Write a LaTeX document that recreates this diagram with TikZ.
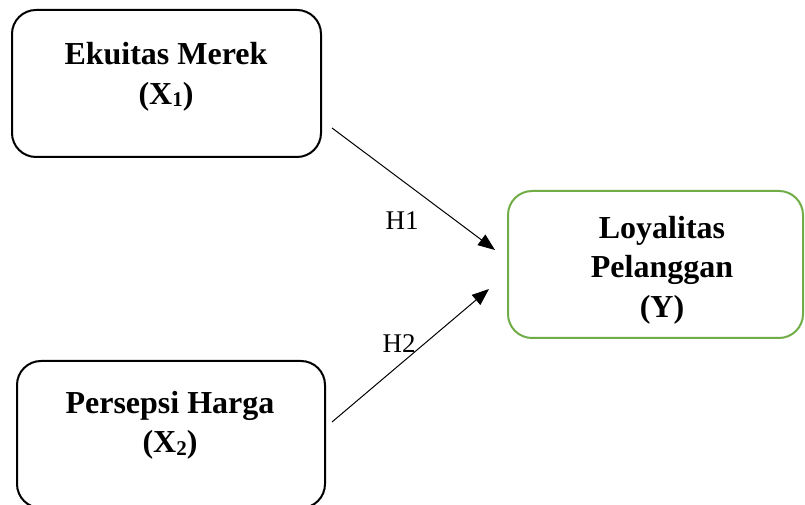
\documentclass[tikz,border=0pt]{standalone}
\usepackage{fontspec}
\setmainfont{Liberation Serif}
\usetikzlibrary{arrows.meta}
\definecolor{ygreen}{HTML}{70AD47}
\begin{document}
\begin{tikzpicture}[x=1pt,y=1pt,
  varbox/.style={draw=black,line width=2pt,rounded corners=24pt},
  ybox/.style={draw=ygreen,line width=2pt,rounded corners=24pt},
  boxtext/.style={align=center,inner sep=0pt,font=\fontsize{32}{39.5}\selectfont\bfseries},
  hlabel/.style={inner sep=0pt,anchor=base,font=\fontsize{27}{30}\selectfont},
  conn/.style={line width=1pt,-{Triangle[length=17pt,width=13pt]}}]
\useasboundingbox (0,0) rectangle (805,505);
% boxes
\draw[varbox] (12,348) rectangle (321,495);
\draw[varbox] (17,-3) rectangle (325,144);
\draw[ybox] (508,167) rectangle (803,314);
% texts
\node[boxtext] (x1) at (166,428) {Ekuitas Merek\\(X\raisebox{-0.15ex}{\fontsize{21}{21}\selectfont 1})};
\node[boxtext] (x2) at (170,79.5) {Persepsi Harga\\(X\raisebox{-0.15ex}{\fontsize{21}{21}\selectfont 2})};
\node[boxtext] (y) at (662,235) {Loyalitas\\Pelanggan\\(Y)};
% connector ends
\coordinate (h1s) at (332,377);
\coordinate (h1e) at (495,255);
\coordinate (h2s) at (332,83);
\coordinate (h2e) at (489,216);
\draw[conn] (h1s) -- (h1e);
\draw[conn] (h2s) -- (h2e);
\node[hlabel] (l1) at (402,275) {H1};
\node[hlabel] (l2) at (399,152) {H2};
\end{tikzpicture}
\end{document}
